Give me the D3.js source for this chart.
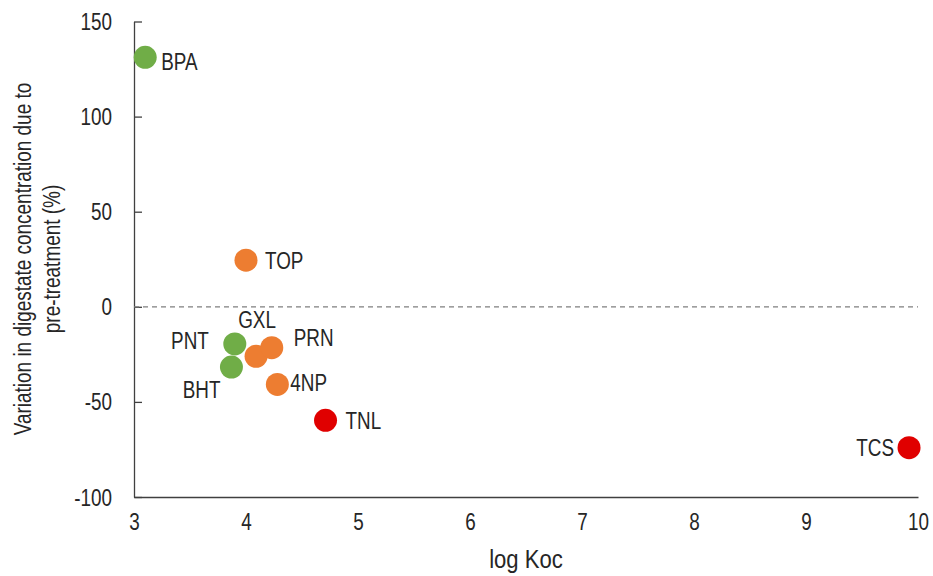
<!DOCTYPE html>
<html>
<head>
<meta charset="utf-8">
<script src="https://cdn.jsdelivr.net/npm/d3@7"></script>
<style>
  html, body { margin: 0; padding: 0; background: #fff; }
  svg text { font-family: "Liberation Sans", Arial, sans-serif; fill: #262626; }
</style>
</head>
<body>
<svg id="chart" width="933" height="576"></svg>
<script>
// ---- data ----
const compounds = ["BPA", "TOP", "PNT", "BHT", "GXL", "PRN", "4NP", "TNL", "TCS"];
const logKoc    = [3.10, 4.00, 3.90, 3.87, 4.09, 4.23, 4.28, 4.71, 9.92];
const variation = [131.2, 24.5, -19.5, -31.7, -26.0, -21.5, -40.8, -59.7, -74.1];
const groups    = ["green", "orange", "green", "green", "orange", "orange", "orange", "red", "red"];
const xTicks = [3, 4, 5, 6, 7, 8, 9, 10];
const yTicks = [-100, -50, 0, 50, 100, 150];
const xTitle = "log Koc";
const yTitleLines = ["Variation in digestate concentration due to", "pre-treatment (%)"];

// ---- style / layout (not data) ----
const colors = { green: "#70AD47", orange: "#ED7D31", red: "#E00000" };
// label placement: [dx, dy, anchor] relative to the point centre
const labelPlace = {
  BPA: [16, 5, "start"], TOP: [19, 1, "start"], PNT: [-26, -3, "end"], BHT: [-11, 23, "end"],
  GXL: [1, -36, "middle"], PRN: [22, -10, "start"], "4NP": [13, -1, "start"],
  TNL: [20, 1, "start"], TCS: [-15, 0, "end"]
};
const squeeze = 0.82; // narrow-font look

const svg = d3.select("#chart");
const x = d3.scaleLinear().domain([3, 10]).range([134, 918]);
const y = d3.scaleLinear().domain([-100, 150]).range([497, 21.5]);
const fs = 23;
const fmt = d => String(d);

// y axis
const yAxis = svg.append("g").attr("transform", `translate(${x(3)},0)`)
  .call(d3.axisLeft(y).tickValues(yTicks).tickFormat(fmt).tickSize(-8).tickPadding(22).tickSizeOuter(0));
yAxis.attr("font-family", null).attr("font-size", null);
yAxis.select(".domain").attr("stroke", "#404040").attr("stroke-width", 1.3);
yAxis.selectAll(".tick line").attr("stroke", "#404040").attr("stroke-width", 1.3);
yAxis.selectAll(".tick text").attr("font-size", fs).attr("dy", "0.35em").style("fill", "#262626");

// x axis
const xAxis = svg.append("g").attr("transform", `translate(0,${y(-100)})`)
  .call(d3.axisBottom(x).tickValues(xTicks).tickFormat(fmt).tickSize(0).tickPadding(17).tickSizeOuter(0));
xAxis.attr("font-family", null).attr("font-size", null);
xAxis.select(".domain").attr("stroke", "#404040").attr("stroke-width", 1.3);
xAxis.selectAll(".tick text").attr("font-size", fs).style("fill", "#262626");

// zero dashed line
svg.append("line")
  .attr("x1", x(3)).attr("x2", x(10)).attr("y1", y(0)).attr("y2", y(0))
  .attr("stroke", "#7f7f7f").attr("stroke-width", 1.3).attr("stroke-dasharray", "5,4");

// points
const pts = compounds.map((c, i) => ({ c, x: logKoc[i], y: variation[i], g: groups[i] }));
svg.append("g").selectAll("circle").data(pts).join("circle")
  .attr("cx", d => x(d.x)).attr("cy", d => y(d.y)).attr("r", 11.5)
  .attr("fill", d => colors[d.g]);

// labels
svg.append("g").selectAll("text").data(pts).join("text")
  .attr("x", d => x(d.x) + labelPlace[d.c][0])
  .attr("y", d => y(d.y) + labelPlace[d.c][1])
  .attr("dy", "0.35em")
  .attr("text-anchor", d => labelPlace[d.c][2])
  .attr("font-size", fs)
  .text(d => d.c);

// condense all text horizontally
svg.selectAll("text").each(function () {
  const w = this.getComputedTextLength();
  d3.select(this).attr("textLength", w * squeeze).attr("lengthAdjust", "spacingAndGlyphs");
});

// titles
svg.append("text").attr("text-anchor", "middle").attr("font-size", 26)
  .attr("transform", "translate(526,559) scale(0.85,1)").attr("dy", "0.35em").text(xTitle);
yTitleLines.forEach((t, i) => {
  const cx = [23, 52][i], cy = 259;
  svg.append("text").attr("text-anchor", "middle").attr("font-size", 24)
    .attr("transform", `translate(${cx},${cy}) rotate(-90) scale(0.79,1)`).attr("dy", "0.35em").text(t);
});
</script>
</body>
</html>
